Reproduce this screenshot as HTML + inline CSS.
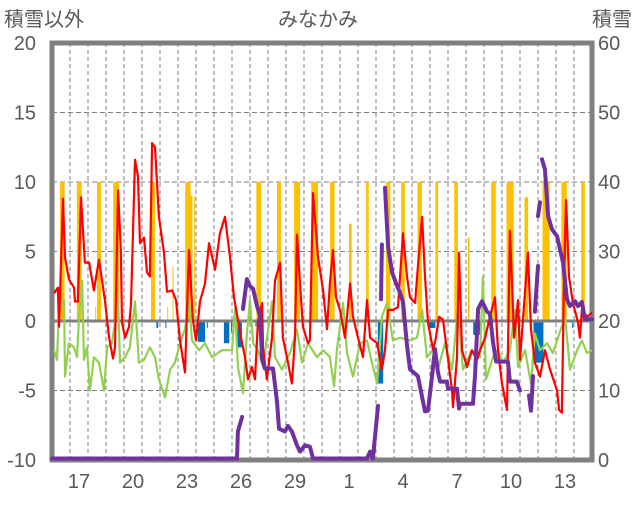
<!DOCTYPE html>
<html><head><meta charset="utf-8">
<style>
body{margin:0;background:#fff;width:636px;height:501px;overflow:hidden}
svg text{font-family:"Liberation Sans","Noto Sans CJK JP",sans-serif;fill:#595959}
</style></head>
<body>
<svg id="chart" width="636" height="501" viewBox="0 0 636 501" xmlns="http://www.w3.org/2000/svg">
<text x="4" y="26" font-size="20">積雪以外</text>
<text x="318" y="26" font-size="20" text-anchor="middle">みなかみ</text>
<text x="632" y="26" font-size="20" text-anchor="end">積雪</text>
<g id="grid"></g>
<g id="bars"></g>
<g id="axes"></g>
<g id="lines"></g>
</svg>
<script>
const dayLabels=[16,17,18,19,20,21,22,23,24,25,26,27,28,29,30,31,1,2,3,4,5,6,7,8,9,10,11,12,13,14];
const leftTicks=[-10,-5,0,5,10,15,20];
const rightTicks=[0,10,20,30,40,50,60];
const redT=[0.11,0.33,0.39,0.61,0.72,0.94,1.22,1.28,1.44,1.61,1.83,2.06,2.33,2.61,2.94,3.17,3.39,3.5,3.67,3.83,3.89,4.06,4.28,4.39,4.61,4.78,4.89,5.11,5.28,5.44,5.56,5.72,5.94,6.22,6.39,6.67,6.89,7.11,7.39,7.61,7.83,8.0,8.22,8.5,8.72,9.06,9.33,9.61,9.89,10.11,10.33,10.56,10.72,10.89,11.11,11.28,11.44,11.67,11.72,11.94,12.22,12.39,12.67,12.83,13.11,13.33,13.5,13.61,13.78,13.94,14.22,14.33,14.5,14.78,15.06,15.28,15.44,15.61,15.78,16.0,16.28,16.56,16.72,17.0,17.28,17.5,17.67,18.06,18.33,18.5,18.67,18.94,19.22,19.5,19.72,19.89,20.17,20.33,20.56,20.72,20.89,21.17,21.33,21.5,21.72,21.94,22.22,22.28,22.5,22.61,22.78,23.06,23.33,23.61,23.78,24.06,24.33,24.61,24.78,25.0,25.28,25.44,25.67,25.89,26.0,26.44,26.61,26.83,27.11,27.39,27.67,28.06,28.17,28.33,28.44,28.56,28.72,28.94,29.22,29.33,29.44,29.72,30.0];
const redV=[2.0,2.4,-0.4,8.8,4.6,3.0,2.4,1.4,1.4,8.9,4.2,4.2,2.2,4.4,1.5,-1.2,-2.7,-1.9,9.4,4.9,-0.1,-1.2,-0.4,1.2,11.6,10.4,5.6,6.0,3.5,3.2,12.8,12.5,7.5,4.9,2.1,2.2,1.5,-1.4,-3.7,5.1,0.1,-1.4,1.4,2.7,5.6,3.7,6.3,7.5,4.6,1.7,0.1,-1.6,-2.6,-4.2,-3.3,-4.2,-0.1,1.3,-1.9,-4.2,-1.2,2.9,4.2,-1.2,-3.0,-4.5,-1.2,6.2,2.7,-0.4,-1.6,-1.4,9.2,4.6,2.2,-0.6,2.7,5.1,1.7,0.8,-1.2,2.7,0.3,-1.2,-2.6,1.5,-1.2,-1.6,-3.5,-2.1,0.8,0.8,1.0,6.3,3.2,1.7,1.3,3.9,7.5,3.2,-0.1,-2.1,-1.2,0.3,0.1,-2.1,-5.0,-6.2,-2.6,4.9,-2.1,-3.3,-2.1,-2.8,-2.1,-1.2,0.3,1.7,-2.1,-4.5,-6.4,6.5,-1.2,1.5,-2.8,4.9,-0.6,-3.0,-4.0,-2.1,-3.5,-5.0,-6.4,-6.6,2.7,8.7,3.2,1.3,-0.1,-1.2,0.8,0.3,0.6];
const greenT=[0.11,0.28,0.39,0.67,0.72,0.94,1.22,1.39,1.5,1.67,1.78,1.94,2.11,2.33,2.61,2.89,3.06,3.33,3.67,3.78,4.06,4.33,4.61,4.83,5.11,5.44,5.72,5.94,6.28,6.56,6.83,7.11,7.39,7.61,7.78,8.17,8.5,8.89,9.44,10.0,10.17,10.33,10.61,10.83,11.0,11.17,11.44,11.72,12.22,12.39,12.78,13.22,13.61,13.89,14.22,14.72,15.06,15.44,15.67,15.83,16.17,16.39,16.72,17.11,17.5,17.78,18.06,18.33,18.61,18.94,19.33,19.89,20.28,20.56,20.83,21.17,21.44,21.83,22.22,22.56,22.83,23.33,23.78,23.94,24.11,24.5,24.78,25.06,25.44,25.72,25.89,26.28,26.61,26.83,27.11,27.5,27.83,28.11,28.5,28.78,29.17,29.44,29.72,30.0];
const greenV=[-2.1,-2.8,0.8,1.5,-4.0,-1.6,-1.9,-2.6,0.3,2.9,-2.8,-1.9,-5.0,-2.6,-3.0,-5.0,-1.9,-1.6,1.4,-3.0,-2.6,-1.9,1.4,-3.0,-2.8,-1.9,-2.6,-4.2,-5.5,-3.5,-3.0,-1.6,-0.6,1.5,-1.4,-2.1,-1.6,-2.6,-2.1,-2.1,1.0,-3.3,-5.2,-0.9,1.5,-1.6,-2.1,-3.3,1.4,-2.6,-3.5,-2.3,-0.6,-3.0,-1.6,-2.6,-2.1,-2.6,-4.7,-2.1,1.3,-2.3,-4.0,-1.6,-1.4,-3.0,-4.5,0.3,1.3,-1.4,-1.2,-1.4,-1.2,0.8,-2.6,-2.1,-3.5,-1.6,-3.5,1.0,-3.5,-2.1,-2.6,3.2,-4.2,-2.6,-2.1,-3.0,-2.1,0.8,-3.3,-2.1,-4.5,-0.9,-2.1,-1.6,-2.3,-1.2,0.3,-3.5,-2.1,-1.4,-2.3,-2.1];
const snowT=[0,10.28,10.33,10.56,10.58,10.61,10.83,11.0,11.17,11.39,11.56,11.67,11.83,12.28,12.5,12.61,12.94,13.11,13.33,13.61,13.78,14.06,14.33,14.5,17.5,17.67,17.83,18.11,18.2,18.28,18.33,18.4,18.5,18.67,18.89,19.17,19.33,19.5,19.72,19.89,20.33,20.61,20.72,20.89,21.11,21.28,21.44,21.56,21.94,22.0,22.5,22.61,22.67,23.39,23.5,23.67,23.89,24.17,24.33,24.5,24.67,25.33,25.44,25.83,26.0,26.2,26.5,26.61,26.72,26.78,26.83,27.0,27.0,27.0,27.11,27.15,27.22,27.39,27.56,27.78,28.06,28.22,28.39,28.61,28.78,29.06,29.22,29.44,29.61,30.0];
const snowV=[0,0,3.9,6.0,NaN,21.6,25.9,24.9,24.5,22.0,20.6,14.4,13.0,13.0,8.2,4.3,3.9,4.7,3.9,1.9,1.0,1.9,1.7,0,0,1.0,0,7.6,NaN,23.0,30.9,NaN,39.1,30.6,26.9,24.9,24.0,22.6,16.3,12.9,11.9,8.2,6.8,6.9,11.9,15.8,12.5,11.1,11.1,10.1,10.1,7.2,7.9,7.9,11.9,21.6,22.7,21.2,20.9,16.8,14.0,14.0,11.1,11.1,9.8,NaN,9.1,6.9,11.9,NaN,21.2,27.8,NaN,35.0,37.0,NaN,43.2,41.7,35.0,33.1,32.1,30.2,28.3,23.0,22.0,22.7,22.0,22.6,20.1,20.1];
const precipStart=[0.45,1.38,2.5,3.4,5.5,7.4,7.65,2.4,6.4,6.7,11.35,12.5,13.45,14.4,15.45,16.5,17.45,18.55,19.4,20.3,21.3,22.35,23.1,24.4,25.25,26.25,27.25,28.3,29.4,7.9];
const precipEnd=[0.7,1.65,2.72,3.72,5.72,7.7,7.8,2.45,6.45,6.75,11.62,12.72,13.78,14.78,15.7,16.65,17.6,18.8,19.6,20.55,21.45,22.55,23.2,24.65,25.65,26.45,27.65,28.6,29.6,7.95];
const precipV=[10,10,10,10,10,10,9,1,1,3.9,10,10,10,10,10,7,10,10,10,10,10,10,6,10,10,8.9,10,10,10,9];
const negStart=[5.8,6.3,8.1,8.6,9.55,9.95,10.3,11.3,12.3,18.1,20.95,23.4,26.75,28.9];
const negEnd=[5.9,6.35,8.5,8.65,9.85,10.0,10.55,11.35,12.35,18.4,21.3,23.8,27.3,28.95];
const negV=[-0.5,-0.5,-1.5,-0.5,-1.6,-0.8,-1.9,-0.4,-0.5,-4.5,-0.5,-1.0,-3.0,-0.5];

const X0=52,X1=592,YT=43,YB=460;
const xs=t=>X0+(X1-X0)*t/30;
const yl=v=>YB-(v+10)*(YB-YT)/30;
const yr=s=>YB-1.5-s*(YB-YT-1.5)/60;
const NS='http://www.w3.org/2000/svg';
function mk(tag,parent,attrs){const e=document.createElementNS(NS,tag);for(const k in attrs)e.setAttribute(k,attrs[k]);parent.appendChild(e);return e;}
const grid=document.getElementById('grid'),bars=document.getElementById('bars'),lines=document.getElementById('lines'),axes=document.getElementById('axes');
for(let i=1;i<dayLabels.length;i++){const l=mk('line',grid,{x1:xs(i),x2:xs(i),y1:YT,y2:YB,stroke:'#7f7f7f','stroke-width':1,'stroke-dasharray':'4,3'});

}
leftTicks.forEach(v=>{if(v!==0&&v!==-10&&v!==20){const l=mk('line',grid,{x1:X0,x2:X1,y1:yl(v),y2:yl(v),stroke:'#7f7f7f','stroke-width':1,'stroke-dasharray':'5,3'});

}
const t=mk('text',axes,{x:36,y:yl(v)+7,'font-size':20,'text-anchor':'end'});t.textContent=v;

});
rightTicks.forEach(s=>{const t=mk('text',axes,{x:598,y:YB-s*(YB-YT)/60+7,'font-size':20});t.textContent=s;

});
dayLabels.forEach((d,i)=>{if(i%3===1){const t=mk('text',axes,{x:xs(i+0.5),y:488,'font-size':20,'text-anchor':'middle'});t.textContent=d;

}});
precipV.forEach((v,i)=>{const r=mk('rect',bars,{x:xs(precipStart[i]),y:yl(v),width:Math.max(1,xs(precipEnd[i])-xs(precipStart[i])),height:yl(0)-yl(v),fill:'#ffc000'});

});
negV.forEach((v,i)=>{const r=mk('rect',bars,{x:xs(negStart[i]),y:yl(0),width:Math.max(1,xs(negEnd[i])-xs(negStart[i])),height:yl(v)-yl(0),fill:'#0070c0'});

});
const z=mk('line',axes,{x1:X0,x2:X1,y1:yl(0),y2:yl(0),stroke:'#7f7f7f','stroke-width':3});


const f=mk('rect',axes,{x:X0,y:YT,width:X1-X0,height:YB-YT,fill:'none',stroke:'#7f7f7f','stroke-width':5});


function path(T,V,yf){let d='',pen=false;T.forEach((t,i)=>{const v=V[i];if(isNaN(v)){pen=false;return;}d+=(pen?'L':'M')+xs(t).toFixed(1)+','+yf(v).toFixed(1);pen=true;});return d;}
const g=mk('path',lines,{d:path(greenT,greenV,yl),fill:'none',stroke:'#92d050','stroke-width':2.2,'stroke-linejoin':'round'});


const r=mk('path',lines,{d:path(redT,redV,yl),fill:'none',stroke:'#ff0000','stroke-width':2.2,'stroke-linejoin':'round'});


const p=mk('path',lines,{d:path(snowT,snowV,yr),fill:'none',stroke:'#7030a0','stroke-width':4,'stroke-linejoin':'round','stroke-linecap':'round'});


</script>
</body></html>
